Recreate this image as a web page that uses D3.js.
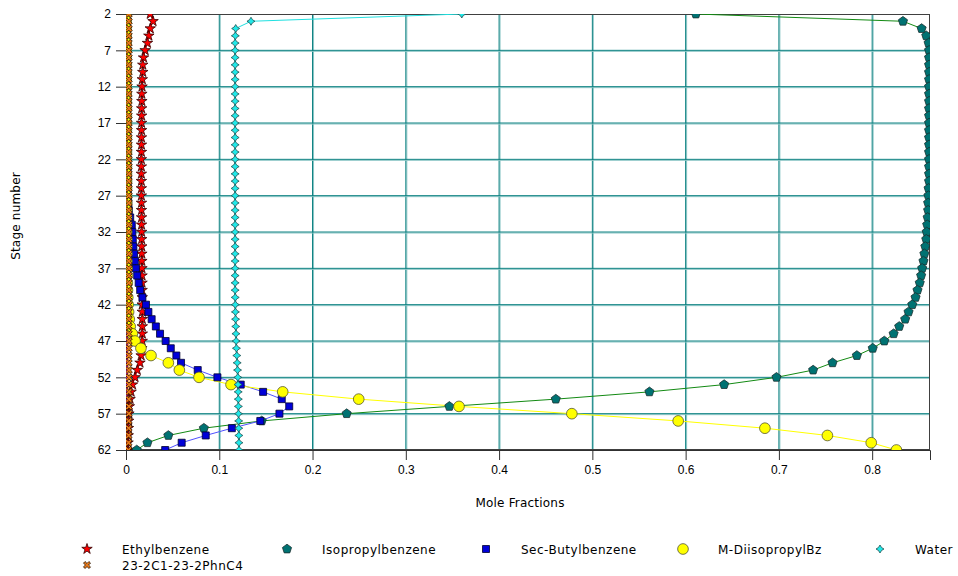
<!DOCTYPE html>
<html><head><meta charset="utf-8">
<script src="https://cdn.jsdelivr.net/npm/d3@7"></script>
<style>body{margin:0;background:#fff}svg{display:block}</style>
</head><body><svg id="c" width="958" height="576"></svg>
<script>
// ---- data ----
const stages = [2,3,4,5,6,7,8,9,10,11,12,13,14,15,16,17,18,19,20,21,22,23,24,25,26,27,28,29,30,31,32,33,34,35,36,37,38,39,40,41,42,43,44,45,46,47,48,49,50,51,52,53,54,55,56,57,58,59,60,61,62];
const stageTicks = [2,7,12,17,22,27,32,37,42,47,52,57,62];
const fracTicks = [0,0.1,0.2,0.3,0.4,0.5,0.6,0.7,0.8];
const seriesNames = ["Ethylbenzene","Isopropylbenzene","Sec-Butylbenzene","M-DiisopropylBz","Water","23-2C1-23-2PhnC4"];

const ethylbenzene = [0.026,0.029,0.026,0.0245,0.023,0.0205,0.0188,0.018,0.018,0.0175,0.0172,0.017,0.017,0.0168,0.0168,0.0167,0.0167,0.0166,0.0166,0.0166,0.0165,0.0165,0.0165,0.0165,0.0165,0.0165,0.0166,0.0166,0.0167,0.0167,0.0168,0.0168,0.0169,0.017,0.017,0.0171,0.0172,0.0172,0.0173,0.0174,0.0174,0.0175,0.0175,0.0175,0.0175,0.0174,0.017,0.0162,0.015,0.0121,0.0097,0.007,0.0055,0.0044,0.0036,0.0031,0.0028,0.0026,0.0024,0.0022,0.002];
const isopropylbenzene = [0.611,0.833,0.853,0.858,0.8605,0.861,0.861,0.861,0.861,0.861,0.861,0.861,0.861,0.861,0.861,0.861,0.861,0.861,0.861,0.861,0.861,0.861,0.861,0.861,0.8605,0.8603,0.86,0.86,0.8595,0.859,0.8585,0.858,0.857,0.856,0.855,0.8536,0.8525,0.851,0.8486,0.8465,0.843,0.839,0.8354,0.829,0.823,0.813,0.8006,0.7836,0.7575,0.7367,0.6974,0.6413,0.5612,0.4608,0.3467,0.2366,0.1455,0.0835,0.0454,0.023,0.0115];
const secButylbenzene = [0.0005,0.0005,0.0006,0.0006,0.0007,0.0007,0.0008,0.0008,0.0009,0.0009,0.001,0.001,0.0011,0.0011,0.0012,0.0012,0.0013,0.0013,0.0014,0.0015,0.0016,0.0017,0.0018,0.0019,0.002,0.0021,0.0024,0.003,0.0045,0.0062,0.0068,0.0073,0.0079,0.0086,0.0095,0.0106,0.012,0.0136,0.0152,0.0176,0.0214,0.024,0.0275,0.032,0.0365,0.0425,0.048,0.054,0.059,0.0769,0.098,0.123,0.147,0.167,0.175,0.1645,0.144,0.1135,0.0855,0.0597,0.042];
const mDiisopropylBz = [0.0002,0.0002,0.0002,0.0002,0.0002,0.0003,0.0003,0.0003,0.0003,0.0003,0.0003,0.0003,0.0003,0.0004,0.0004,0.0004,0.0004,0.0004,0.0004,0.0005,0.0005,0.0005,0.0005,0.0006,0.0006,0.0006,0.0007,0.0007,0.0007,0.0008,0.0008,0.0009,0.0009,0.001,0.001,0.0011,0.0012,0.0014,0.0016,0.0019,0.0023,0.0028,0.0035,0.0045,0.0068,0.0097,0.016,0.0268,0.0454,0.0572,0.0783,0.1126,0.168,0.2495,0.357,0.478,0.592,0.685,0.752,0.799,0.826];
const water = [0.36,0.134,0.1176,0.1172,0.117,0.117,0.117,0.117,0.117,0.117,0.117,0.117,0.117,0.117,0.117,0.117,0.117,0.117,0.117,0.117,0.117,0.117,0.117,0.117,0.117,0.117,0.117,0.117,0.117,0.117,0.117,0.117,0.117,0.117,0.117,0.117,0.117,0.117,0.117,0.1171,0.1172,0.1173,0.1175,0.1177,0.1179,0.1181,0.1184,0.1188,0.1192,0.1196,0.1199,0.1201,0.1203,0.1204,0.1205,0.1206,0.1208,0.1209,0.121,0.1211,0.1212];
const dichloroDiphenylButane = [0.003,0.003,0.003,0.003,0.003,0.003,0.003,0.003,0.003,0.003,0.003,0.003,0.003,0.003,0.003,0.003,0.003,0.003,0.003,0.003,0.003,0.003,0.003,0.003,0.003,0.003,0.003,0.003,0.003,0.003,0.003,0.003,0.003,0.003,0.003,0.003,0.003,0.003,0.003,0.003,0.003,0.003,0.003,0.003,0.003,0.003,0.003,0.003,0.003,0.0031,0.0031,0.0031,0.0031,0.0031,0.0031,0.003,0.003,0.0029,0.0028,0.0027,0.0026];
const unlistedTrace = [0.0011,0.0011,0.0011,0.0011,0.0011,0.0011,0.0011,0.0011,0.0011,0.0011,0.0011,0.0011,0.0011,0.0011,0.0011,0.0011,0.0011,0.0011,0.0011,0.0011,0.0011,0.0011,0.0011,0.0011,0.0011,0.0011,0.0011,0.0011,0.0011,0.0011,0.0011,0.0011,0.0011,0.0011,0.0011,0.0011,0.0011,0.0011,0.0011,0.0011,0.0011,0.0011,0.0011,0.0011,0.0011,0.0011,0.0011,0.0011,0.0011,0.0011,0.0011,0.0011,0.0011,0.0011,0.0011,0.0011,0.0011,0.0011,0.0011,0.0011,0.0011];

// ---- layout ----
const L = 126, R = 930, T = 14, B = 450;
const FONT = "'DejaVu Sans', 'Liberation Sans', sans-serif";
const TICKFONT = "'Liberation Sans', Arial, sans-serif";
const svg = d3.select("#c");
const x = d3.scaleLinear().domain([0, 0.862]).range([L, R]);
const y = d3.scaleLinear().domain([2, 62]).range([T, B]);

function pentagon(r){ const p=[]; for(let k=0;k<5;k++){const a=-Math.PI/2+k*2*Math.PI/5; p.push([r*Math.cos(a), r*Math.sin(a)]);} return "M"+p.map(q=>q.join(",")).join("L")+"Z"; }
function fourStar(r){ const s=r*0.38; return `M0,${-r}L${s},${-s}L${r},0L${s},${s}L0,${r}L${-s},${s}L${-r},0L${-s},${-s}Z`; }
function xMark(r){ const w=r*0.45; return `M${-r},${-r+w}L${-r+w},${-r}L0,${-w}L${r-w},${-r}L${r},${-r+w}L${w},0L${r},${r-w}L${r-w},${r}L0,${w}L${-r+w},${r}L${-r},${r-w}L${-w},0Z`; }

const series = [
  {name: seriesNames[0], vals: ethylbenzene, line:"#ff0000", fill:"#ff0000", stroke:"#300000", shape: d3.symbol(d3.symbolStar, 34)()},
  {name: seriesNames[1], vals: isopropylbenzene, line:"#138a13", fill:"#007272", stroke:"#1a3030", shape: pentagon(4.8)},
  {name: seriesNames[2], vals: secButylbenzene, line:"#5050ff", fill:"#0000d8", stroke:"#000030", shape: "M-3.5,-3.5h7v7h-7Z"},
  {name: seriesNames[3], vals: mDiisopropylBz, line:"#ffff00", fill:"#ffff00", stroke:"#555533", shape: d3.symbol(d3.symbolCircle, 90)()},
  {name: seriesNames[4], vals: water, line:"#20e0e0", fill:"#20e8e8", stroke:"#205050", shape: fourStar(4)},
  {name: seriesNames[5], vals: dichloroDiphenylButane, line:"#ff8000", fill:"#e87818", stroke:"#201000", shape: xMark(3.5)}
];

svg.append("rect").attr("width",958).attr("height",576).attr("fill","#fff");
svg.append("clipPath").attr("id","clip").append("rect").attr("x",L).attr("y",T).attr("width",R-L).attr("height",B-T);

// gridlines
const grid = svg.append("g");
fracTicks.filter(t=>t>0).forEach(t=>{
  grid.append("line").attr("x1",x(t)+1).attr("x2",x(t)+1).attr("y1",T).attr("y2",B).attr("stroke","#8cc6c6").attr("stroke-width",1);
  grid.append("line").attr("x1",x(t)).attr("x2",x(t)).attr("y1",T).attr("y2",B).attr("stroke","#0a8080").attr("stroke-width",1);
});
stageTicks.filter(t=>t>2 && t<62).forEach(t=>{
  grid.append("line").attr("x1",L).attr("x2",R).attr("y1",y(t)+1).attr("y2",y(t)+1).attr("stroke","#8cc6c6").attr("stroke-width",1);
  grid.append("line").attr("x1",L).attr("x2",R).attr("y1",y(t)).attr("y2",y(t)).attr("stroke","#0a8080").attr("stroke-width",1);
});

// frame
svg.append("rect").attr("x",L+0.5).attr("y",T+0.5).attr("width",R-L-1).attr("height",B-T-1)
  .attr("fill","none").attr("stroke","#404040").attr("stroke-width",1);

// axes
const yAxis = d3.axisLeft(y).tickValues(stageTicks).tickSize(10).tickPadding(5).tickFormat(d3.format("d"));
const gy = svg.append("g").attr("transform",`translate(${L},0)`).call(yAxis);
const xAxis = d3.axisBottom(x).tickValues(fracTicks).tickSize(10).tickPadding(5).tickFormat(d=> d===0 ? "0" : d3.format(".1f")(d));
const gx = svg.append("g").attr("transform",`translate(0,${B})`).call(xAxis);
[gx, gy].forEach(g=>{
  g.select(".domain").attr("stroke","#303030");
  g.selectAll(".tick line").attr("stroke","#303030");
  g.selectAll("text").attr("font-family",TICKFONT).attr("font-size","12px").attr("fill","#000");
});

const plot = svg.append("g").attr("clip-path","url(#clip)");
const line = d3.line().x(d=>x(d.v)).y(d=>y(d.s));

plot.append("path").datum(stages.map((s,i)=>({s, v: unlistedTrace[i]})))
  .attr("d", line).attr("fill","none").attr("stroke","#ff00ff").attr("stroke-width",1.6);

series.forEach(sr=>{
  const pts = stages.map((s,i)=>({s, v: sr.vals[i]}));
  plot.append("path").datum(pts).attr("d", line).attr("fill","none").attr("stroke", sr.line).attr("stroke-width",1);
});
series.forEach(sr=>{
  const pts = stages.map((s,i)=>({s, v: sr.vals[i]}));
  plot.append("g").selectAll("path").data(pts).join("path")
    .attr("transform", d=>`translate(${x(d.v)},${y(d.s)})`)
    .attr("d", sr.shape).attr("fill", sr.fill).attr("stroke", sr.stroke).attr("stroke-width", 0.8);
});

svg.append("text").attr("x",(L+R)/2-8).attr("y",507).attr("text-anchor","middle")
  .attr("font-family",FONT).attr("font-size","12px").attr("letter-spacing","0.2px").text("Mole Fractions");
svg.append("text").attr("transform",`translate(20,216) rotate(-90)`).attr("text-anchor","middle")
  .attr("font-family",FONT).attr("font-size","12px").attr("letter-spacing","0.2px").text("Stage number");

// legend
const legPos = [[87,549],[287,549],[486,549],[683,549],[880,549],[87,565]];
const lg = svg.append("g");
series.forEach((sr,i)=>{
  const [lx,ly] = legPos[i];
  lg.append("path").attr("transform",`translate(${lx},${ly})`).attr("d", sr.shape)
    .attr("fill", sr.fill).attr("stroke", sr.stroke).attr("stroke-width",0.8);
  lg.append("text").attr("x", lx+35).attr("y", ly+4.5).attr("font-family",FONT).attr("font-size","12px")
    .attr("letter-spacing","0.5px").attr("fill","#000").text(sr.name);
});
</script>
</body></html>
